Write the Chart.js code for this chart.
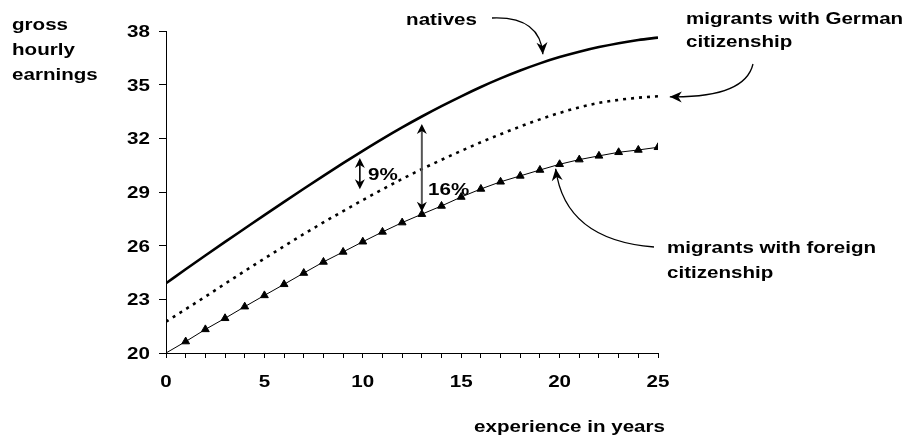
<!DOCTYPE html>
<html>
<head>
<meta charset="utf-8">
<script src="https://cdn.jsdelivr.net/npm/chart.js@4"></script>
<style>
  html, body { margin: 0; padding: 0; background: #fff; }
</style>
</head>
<body>
<canvas id="earningsChart" width="912" height="441"></canvas>
<script>
// years of experience 0..25
const years = [0, 1, 2, 3, 4, 5, 6, 7, 8, 9, 10, 11, 12, 13, 14, 15, 16, 17, 18, 19, 20, 21, 22, 23, 24, 25];

// gross hourly earnings
const natives = [23.9, 24.68, 25.45, 26.21, 26.96, 27.71, 28.45, 29.18, 29.9, 30.61, 31.3, 31.97, 32.61, 33.22, 33.8,
  34.35, 34.87, 35.35, 35.79, 36.19, 36.54, 36.84, 37.1, 37.32, 37.5, 37.63];
const germanCitizens = [21.75, 22.45, 23.15, 23.87, 24.58, 25.28, 25.97, 26.65, 27.3, 27.93, 28.55, 29.15, 29.73, 30.28, 30.8,
  31.3, 31.78, 32.23, 32.66, 33.06, 33.42, 33.73, 33.98, 34.15, 34.27, 34.35];
const foreignCitizens = [20, 20.64, 21.32, 21.94, 22.59, 23.22, 23.84, 24.47, 25.09, 25.65, 26.22, 26.77, 27.29, 27.76, 28.22,
  28.72, 29.17, 29.57, 29.9, 30.23, 30.55, 30.81, 31.02, 31.22, 31.35, 31.5];

const xTickLabels = [0, 5, 10, 15, 20, 25];
const yTickLabels = [20, 23, 26, 29, 32, 35, 38];

const FONT = "bold 17px 'Liberation Sans', Arial, sans-serif";
const STRETCH = 1.21; // the original text is drawn a bit wide

function toPoints(arr) {
  return years.map((x, i) => ({ x: x, y: arr[i] }));
}

function wideText(ctx, str, x, y, align) {
  ctx.save();
  ctx.translate(x, y);
  ctx.scale(STRETCH, 1);
  ctx.textAlign = align;
  ctx.fillText(str, 0, 0);
  ctx.restore();
}

function arrowHead(ctx, x, y, angle, len, half) {
  ctx.save();
  ctx.translate(x, y);
  ctx.rotate(angle);
  ctx.beginPath();
  ctx.moveTo(0, 0);
  ctx.lineTo(-len, -half);
  ctx.lineTo(-len * 0.7, 0);
  ctx.lineTo(-len, half);
  ctx.closePath();
  ctx.fill();
  ctx.restore();
}

function curvedArrow(ctx, x0, y0, cx, cy, x1, y1) {
  ctx.beginPath();
  ctx.moveTo(x0, y0);
  ctx.quadraticCurveTo(cx, cy, x1, y1);
  ctx.stroke();
  arrowHead(ctx, x1, y1, Math.atan2(y1 - cy, x1 - cx), 12, 5.5);
}

function doubleArrow(ctx, x, yTop, yBottom) {
  ctx.beginPath();
  ctx.moveTo(x, yTop + 4);
  ctx.lineTo(x, yBottom - 4);
  ctx.stroke();
  arrowHead(ctx, x, yTop, -Math.PI / 2, 10, 5);
  arrowHead(ctx, x, yBottom, Math.PI / 2, 10, 5);
}

const annotations = {
  id: "annotations",
  afterDatasetsDraw(chart) {
    const ctx = chart.ctx;
    const xs = chart.scales.x;
    const ys = chart.scales.y;
    ctx.save();
    ctx.fillStyle = "#000";
    ctx.strokeStyle = "#000";
    ctx.font = FONT;
    ctx.textBaseline = "alphabetic";

    // tick labels, placed through the scales
    yTickLabels.forEach((v) => wideText(ctx, String(v), 150, ys.getPixelForValue(v) + 6, "right"));
    xTickLabels.forEach((v) => wideText(ctx, String(v), xs.getPixelForValue(v), 387, "center"));

    // axis titles
    wideText(ctx, "gross", 12, 30, "left");
    wideText(ctx, "hourly", 12, 55, "left");
    wideText(ctx, "earnings", 12, 80, "left");
    wideText(ctx, "experience in years", 665, 432, "right");

    // series labels
    wideText(ctx, "natives", 477, 25, "right");
    wideText(ctx, "migrants with German", 686, 24, "left");
    wideText(ctx, "citizenship", 686, 47, "left");
    wideText(ctx, "migrants with foreign", 667, 253, "left");
    wideText(ctx, "citizenship", 667, 278, "left");

    // pointer arrows
    ctx.lineWidth = 1.3;
    curvedArrow(ctx, 492, 18, 540, 16, xs.getPixelForValue(19.15), ys.getPixelForValue(36.7));
    curvedArrow(ctx, 753, 64, 745, 98, xs.getPixelForValue(25.6), ys.getPixelForValue(34.32));
    curvedArrow(ctx, 654, 247, 565, 240, xs.getPixelForValue(19.8), ys.getPixelForValue(30.3));

    // gap arrows
    ctx.lineWidth = 1.6;
    doubleArrow(ctx, xs.getPixelForValue(9.85), ys.getPixelForValue(30.9), ys.getPixelForValue(29.15));
    ctx.strokeStyle = "#555";
    ctx.lineWidth = 2;
    doubleArrow(ctx, xs.getPixelForValue(13), ys.getPixelForValue(32.8), ys.getPixelForValue(27.9));

    ctx.fillStyle = "#000";
    wideText(ctx, "9%", 368, 180, "left");
    wideText(ctx, "16%", 428, 195, "left");
    ctx.restore();
  }
};

const ctx = document.getElementById("earningsChart").getContext("2d");
const chart = new Chart(ctx, {
  type: "line",
  data: {
    datasets: [
      {
        label: "natives",
        data: toPoints(natives),
        borderColor: "#000",
        borderWidth: 2.6,
        pointRadius: 0,
        cubicInterpolationMode: "monotone"
      },
      {
        label: "migrants with German citizenship",
        data: toPoints(germanCitizens),
        borderColor: "#000",
        borderWidth: 2.6,
        borderDash: [3, 5],
        pointRadius: 0,
        cubicInterpolationMode: "monotone"
      },
      {
        label: "migrants with foreign citizenship",
        data: toPoints(foreignCitizens),
        borderColor: "#000",
        borderWidth: 1,
        pointStyle: "triangle",
        pointRadius: years.map((x) => (x === 0 ? 0 : 4.5)),
        pointBackgroundColor: "#000",
        pointBorderColor: "#000",
        pointBorderWidth: 1
      }
    ]
  },
  options: {
    responsive: false,
    animation: false,
    devicePixelRatio: 1,
    layout: { padding: { top: 31, right: 254, left: 0, bottom: 0 } },
    plugins: {
      legend: { display: false },
      tooltip: { enabled: false }
    },
    scales: {
      x: {
        type: "linear",
        min: 0,
        max: 25,
        afterFit: (scale) => { scale.height = 88; },
        afterBuildTicks: (scale) => { scale.ticks = years.map((v) => ({ value: v })); },
        ticks: { display: false, autoSkip: false },
        grid: { drawOnChartArea: false, drawTicks: true, tickLength: 5, color: "#000" },
        border: { display: true, color: "#000", width: 1 }
      },
      y: {
        min: 20,
        max: 38,
        afterFit: (scale) => { scale.width = 166; },
        afterBuildTicks: (scale) => { scale.ticks = yTickLabels.map((v) => ({ value: v })); },
        ticks: { display: false },
        grid: { drawOnChartArea: false, drawTicks: true, tickLength: 7, color: "#000" },
        border: { display: true, color: "#000", width: 1 }
      }
    }
  },
  plugins: [annotations]
});
</script>
</body>
</html>
